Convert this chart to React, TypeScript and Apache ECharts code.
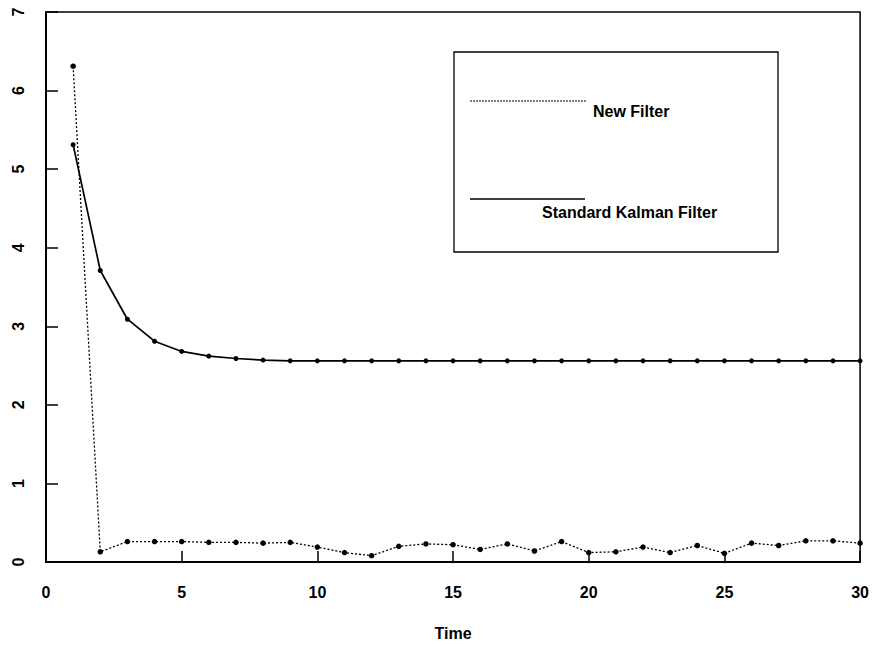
import React, { useEffect, useRef } from "react";
import * as echarts from "echarts";

const times = Array.from({ length: 30 }, (_, i) => i + 1);
const newFilter = [
  6.31, 0.13, 0.26, 0.26, 0.26, 0.25, 0.25, 0.24, 0.25, 0.19,
  0.12, 0.08, 0.2, 0.23, 0.22, 0.16, 0.23, 0.14, 0.26, 0.12,
  0.13, 0.19, 0.12, 0.21, 0.11, 0.24, 0.21, 0.27, 0.27, 0.24,
];
const kalman = [
  5.31, 3.71, 3.09, 2.81, 2.68, 2.62, 2.59, 2.57, 2.56, 2.56,
  2.56, 2.56, 2.56, 2.56, 2.56, 2.56, 2.56, 2.56, 2.56, 2.56,
  2.56, 2.56, 2.56, 2.56, 2.56, 2.56, 2.56, 2.56, 2.56, 2.56,
];
const seriesNames = ["New Filter", "Standard Kalman Filter"];
const xAxisTitle = "Time";

export default function App() {
  const ref = useRef<HTMLDivElement>(null);
  useEffect(() => {
    if (!ref.current) return;
    const chart = echarts.init(ref.current, undefined, { renderer: "svg" });
    const font = "'Liberation Sans', Arial, Helvetica, sans-serif";
    const txt = { color: "#000", fontSize: 16, fontWeight: "bold" as const, fontFamily: font };
    chart.setOption({
      animation: false,
      backgroundColor: "#fff",
      textStyle: { fontFamily: font },
      grid: {
        left: 46,
        right: 11,
        top: 12,
        bottom: 77,
        show: true,
        borderColor: "#000",
        borderWidth: 1.5,
      },
      xAxis: {
        type: "value",
        min: 0,
        max: 30,
        interval: 5,
        name: xAxisTitle,
        nameLocation: "middle",
        nameGap: 63,
        nameTextStyle: { ...txt },
        axisLine: { show: true, onZero: false, lineStyle: { color: "#000", width: 2 } },
        axisTick: { show: true, inside: true, length: 11, lineStyle: { color: "#000", width: 1.5 } },
        axisLabel: { ...txt, margin: 22 },
        splitLine: { show: false },
      },
      yAxis: {
        type: "value",
        min: 0,
        max: 7,
        interval: 1,
        axisLine: { show: true, onZero: false, lineStyle: { color: "#000", width: 2 } },
        axisTick: { show: true, inside: true, length: 12, lineStyle: { color: "#000", width: 1.5 } },
        axisLabel: { ...txt, margin: 20, rotate: 90, align: "center", verticalAlign: "bottom" },
        splitLine: { show: false },
      },
      series: [
        {
          name: seriesNames[0],
          type: "line",
          data: times.map((t, i) => [t, newFilter[i]]),
          symbol: "circle",
          symbolSize: 5.5,
          itemStyle: { color: "#000" },
          lineStyle: { color: "#000", width: 1.3, type: [2, 2] },
        },
        {
          name: seriesNames[1],
          type: "line",
          data: times.map((t, i) => [t, kalman[i]]),
          symbol: "circle",
          symbolSize: 5,
          itemStyle: { color: "#000" },
          lineStyle: { color: "#000", width: 1.7 },
        },
      ],
      graphic: [
        {
          type: "rect",
          shape: { x: 454, y: 52, width: 324, height: 200 },
          style: { fill: "#fff", stroke: "#000", lineWidth: 1.3 },
          z: 10,
        },
        {
          type: "line",
          shape: { x1: 470, y1: 101, x2: 586, y2: 101 },
          style: { stroke: "#000", lineWidth: 1, lineDash: [2, 1] },
          z: 11,
        },
        {
          type: "text",
          x: 593,
          y: 111,
          style: { text: seriesNames[0], fill: "#000", fontSize: 16, fontWeight: "bold", fontFamily: font, verticalAlign: "middle" },
          z: 11,
        },
        {
          type: "line",
          shape: { x1: 470, y1: 199, x2: 585, y2: 199 },
          style: { stroke: "#000", lineWidth: 1.6 },
          z: 11,
        },
        {
          type: "text",
          x: 542,
          y: 212,
          style: { text: seriesNames[1], fill: "#000", fontSize: 16, fontWeight: "bold", fontFamily: font, verticalAlign: "middle" },
          z: 11,
        },
      ],
    });
    return () => chart.dispose();
  }, []);
  return <div ref={ref} style={{ width: 872, height: 646, position: "absolute", left: 0, top: 0 }} />;
}
